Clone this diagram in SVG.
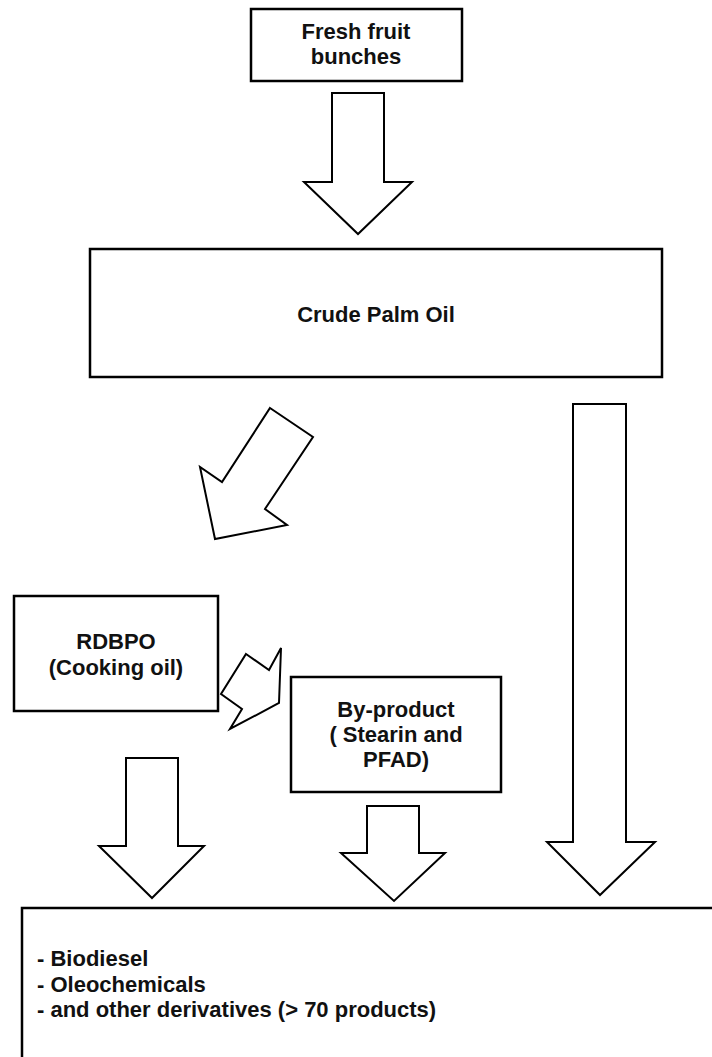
<svg xmlns="http://www.w3.org/2000/svg" width="712" height="1057" viewBox="0 0 712 1057">
<style>
.box{fill:#fff;stroke:#000;stroke-width:2.5}
.arr{fill:#fff;stroke:#000;stroke-width:2;stroke-linejoin:miter}
.t{font-family:"Liberation Sans",Arial,sans-serif;font-weight:bold;font-size:22px;fill:#111}
.c{text-anchor:middle}
</style>
<rect width="712" height="1057" fill="#fff"/>
<g id="connectors">
<polygon class="arr" points="332,93 384,93 384,182 412,182 358,234 304,182 332,182"/>
<polygon class="arr" points="270,408 313,437 265,509 287,525 215,539 200,467 222,482"/>
<polygon class="arr" points="573,404 626,404 626,842 655,842 600,895 547,842 573,842"/>
<polygon class="arr" points="246,654 269,670 281,648 279,703 230,729 242,709 221,694"/>
<polygon class="arr" points="126,758 178,758 178,846 204,846 152,898 99,846 126,846"/>
<polygon class="arr" points="367,806 419,806 419,853 445,853 394,901 341,853 367,853"/>
</g>
<g id="fresh">
<rect class="box" x="251" y="9" width="211" height="72"/>
<text class="t c" x="356" y="39">Fresh fruit</text>
<text class="t c" x="356" y="64">bunches</text>
</g>
<g id="cpo">
<rect class="box" x="90" y="249" width="572" height="128"/>
<text class="t c" x="376" y="322">Crude Palm Oil</text>
</g>
<g id="rdbpo">
<rect class="box" x="14" y="596" width="204" height="115"/>
<text class="t c" x="116" y="649">RDBPO</text>
<text class="t c" x="116" y="675">(Cooking oil)</text>
</g>
<g id="byproduct">
<rect class="box" x="291" y="677" width="210" height="115"/>
<text class="t c" x="396" y="717">By-product</text>
<text class="t c" x="396" y="742">( Stearin and</text>
<text class="t c" x="396" y="767">PFAD)</text>
</g>
<g id="products">
<rect class="box" x="22" y="908" width="720" height="200"/>
<text class="t" x="37" y="966">- Biodiesel</text>
<text class="t" x="37" y="992">- Oleochemicals</text>
<text class="t" x="37" y="1017">- and other derivatives (&gt; 70 products)</text>
</g>
</svg>
